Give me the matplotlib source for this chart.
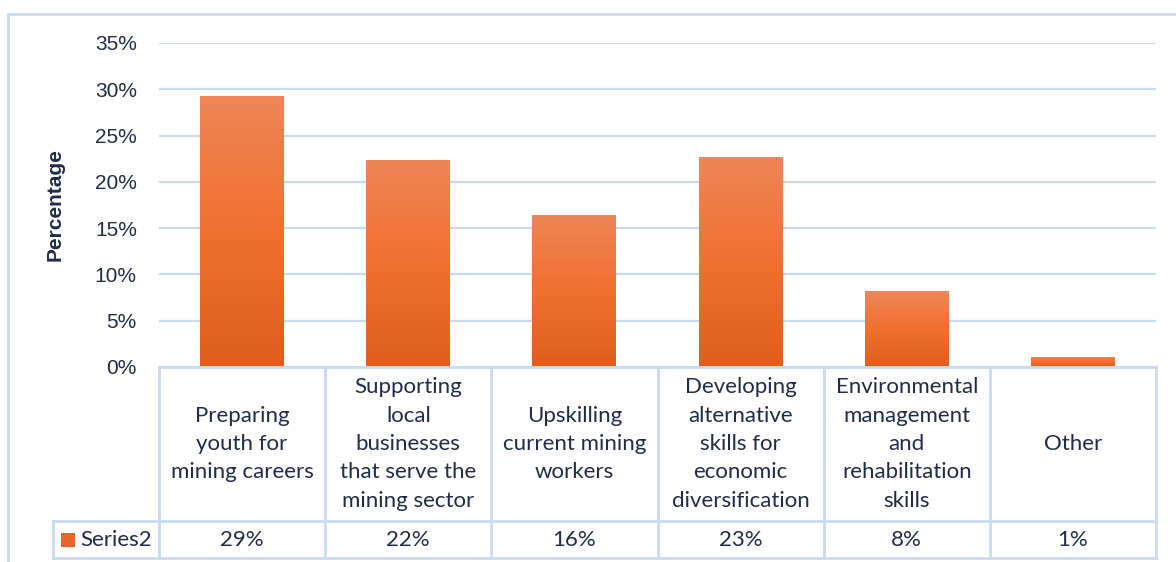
import numpy as np
import matplotlib
matplotlib.use('Agg')
from matplotlib import pyplot as plt
from matplotlib.colors import LinearSegmentedColormap
from matplotlib.patches import Rectangle
from matplotlib.lines import Line2D
from matplotlib.transforms import blended_transform_factory


categories = [
    'Preparing\nyouth for\nmining careers',
    'Supporting\nlocal\nbusinesses\nthat serve the\nmining sector',
    'Upskilling\ncurrent mining\nworkers',
    'Developing\nalternative\nskills for\neconomic\ndiversification',
    'Environmental\nmanagement\nand\nrehabilitation\nskills',
    'Other',
]
values = [0.293, 0.224, 0.164, 0.227, 0.082, 0.011]
series_name = 'Series2'
yticks = [0, 0.05, 0.10, 0.15, 0.20, 0.25, 0.30, 0.35]

W, H = 1176, 562
text_color = '#1F2D4A'
line_color = '#C8DBF0'
bar_cmap = LinearSegmentedColormap.from_list(
    'bar', ['#DF5E1B', '#F07030', '#EE8658'])

fig = plt.figure(figsize=(W / 100, H / 100), dpi=100)

# plot area in pixels: left 159, right 1156, top 43, bottom 367
ax = fig.add_axes([159 / W, 1 - 367 / H, (1156 - 159) / W, (367 - 43) / H])
n = len(categories)
x = np.arange(n)
ax.set_xlim(-0.5, n - 0.5)
ax.set_ylim(0, 0.35)
ax.set_yticks(yticks)
ax.set_yticklabels([f'{t:.0%}' for t in yticks], fontsize=15,
                   color=text_color, family='Liberation Sans')
ax.tick_params(axis='y', length=0, pad=16)
ax.set_xticks([])
for s in ax.spines.values():
    s.set_visible(False)
ax.grid(axis='y', color=line_color, linewidth=1.6)
ax.set_axisbelow(True)

ax.set_ylabel('Percentage', fontsize=15, fontweight='bold',
               color=text_color, family='Liberation Sans', labelpad=22)

# bars with vertical gradient fill
grad = np.linspace(0, 1, 256).reshape(-1, 1)
bars = ax.bar(x, values, width=0.505, color='none', zorder=2)
for b in bars:
    bx, bw, bh = b.get_x(), b.get_width(), b.get_height()
    im = ax.imshow(grad, extent=[bx, bx + bw, 0, bh], origin='lower',
                   cmap=bar_cmap, aspect='auto', zorder=2)
    im.set_clip_path(b)
ax.set_xlim(-0.5, n - 0.5)
ax.set_ylim(0, 0.35)

# data table below the plot area
tr = blended_transform_factory(ax.transData, ax.transAxes)
ph = 367 - 43
y_top = 0
y_mid = -(521 - 367) / ph
y_bot = -(558 - 367) / ph
leg_left = (53 - 159) / (1156 - 159)

def hline(x0, x1, y, trans):
    ax.add_line(Line2D([x0, x1], [y, y], transform=trans, color=line_color,
                       linewidth=2, clip_on=False))

def vline(xv, y0, y1, trans):
    ax.add_line(Line2D([xv, xv], [y0, y1], transform=trans, color=line_color,
                       linewidth=2, clip_on=False))

hline(0, 1, y_top, ax.transAxes)
hline(leg_left, 1, y_mid, ax.transAxes)
hline(leg_left, 1, y_bot, ax.transAxes)
for i in range(n + 1):
    vline(i - 0.5, y_top, y_bot, tr)
vline(leg_left, y_mid, y_bot, ax.transAxes)

for xi, cat, v in zip(x, categories, values):
    ax.text(xi, (y_top + y_mid) / 2, cat, transform=tr, ha='center',
            va='center', fontsize=16, color=text_color, family='Lato',
            linespacing=1.52)
    ax.text(xi, (y_mid + y_bot) / 2, f'{v:.0%}', transform=tr, ha='center',
            va='center', fontsize=16, color=text_color, family='Lato')

# legend key inside the table
key_w = 14 / (1156 - 159)
key_h = 14 / ph
ky = (y_mid + y_bot) / 2
ax.add_patch(Rectangle((leg_left + 8 / 997, ky - key_h / 2), key_w, key_h,
                       transform=ax.transAxes, facecolor='#E8662A',
                       edgecolor='none', clip_on=False))
ax.text(leg_left + 27 / 997, ky, series_name, transform=ax.transAxes,
        ha='left', va='center', fontsize=16, color=text_color, family='Lato')

# chart border
fig.add_artist(Rectangle((8 / W, -0.05), 1.1, 1 - 14 / H + 0.05,
                         transform=fig.transFigure, facecolor='none',
                         edgecolor=line_color, linewidth=2))

fig.savefig('out.png', dpi=100)
